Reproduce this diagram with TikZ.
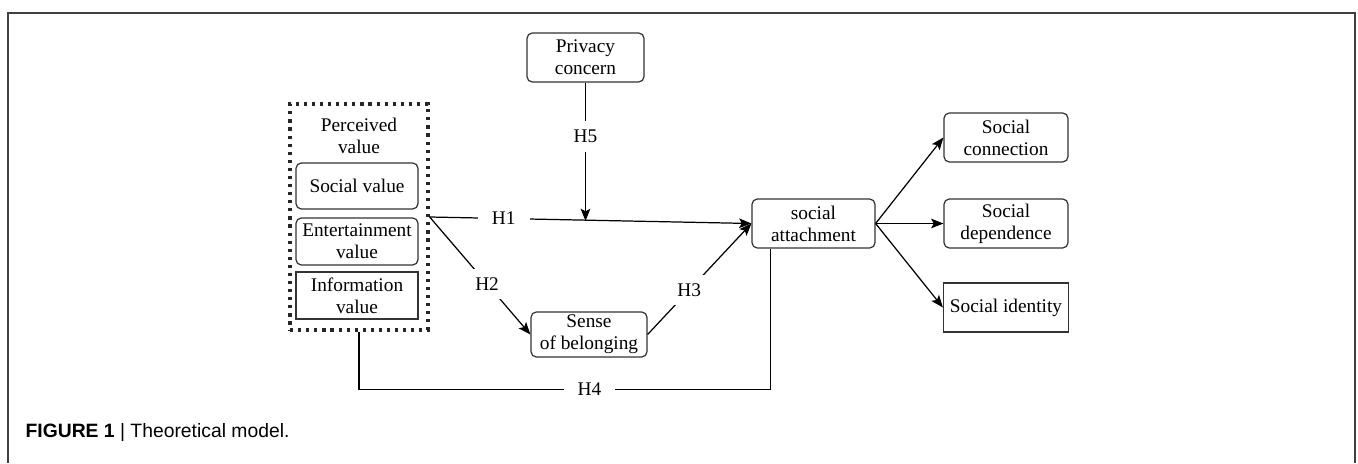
\documentclass[tikz,border=0pt]{standalone}
\usepackage{fontspec}
\setmainfont{Liberation Serif}
\newfontfamily\capfont{Liberation Sans}
\usetikzlibrary{positioning, arrows, arrows.meta}
\newcommand{\tbf}[1]{\textbf{#1}}

\begin{document}
\begin{tikzpicture}[
		x=0.02cm, y=-0.02cm,
		>={Stealth[length=7pt, width=5.5pt, inset=1.5pt]},
		line width=0.7pt,
		vnode/.style={draw=black!80, rounded corners=3pt, align=center, font=\fontsize{11}{12.5}\selectfont, minimum width=2.46cm, minimum height=0.98cm, inner sep=1pt},
		snode/.style={vnode, rounded corners=0pt},
		hlbl/.style={fill=white, font=\fontsize{11}{12.5}\selectfont, inner xsep=8pt, inner ysep=5pt},
	]
	\useasboundingbox (0, 0) rectangle (1358, 463);
	\draw[black!75] (8, 463) |- (1355, 13) -- (1355, 463);

	\node[draw=black!85, dash pattern=on 1.8pt off 2.8pt, line width=1.9pt, minimum width=2.76cm, minimum height=4.52cm] (pv) at (359, 217) {};
	\node[font=\fontsize{11}{12.5}\selectfont, align=center] (pvtxt) at (359, 136) {Perceived\\value};
	\node[vnode, minimum width=2.44cm, minimum height=0.92cm] (sv) at (357, 186) {Social value};
	\node[vnode, minimum width=2.44cm, minimum height=0.94cm] (ev) at (357, 241.5) {Entertainment\\value};
	\node[snode, minimum width=2.44cm, minimum height=0.94cm] (iv) at (357, 295.5) {Information\\value};

	\node[vnode, minimum width=2.34cm] (pc) at (585.5, 57.5) {Privacy\\concern};
	\node[vnode, minimum width=2.32cm, minimum height=0.9cm] (sob) at (589, 334.5) {Sense\\of belonging};
	\node[vnode] (sa) at (813.5, 223.5) {social\\attachment};

	\node[vnode, minimum width=2.48cm] (sc) at (1006, 137.5) {Social\\connection};
	\node[vnode, minimum width=2.48cm] (sd) at (1006, 223.5) {Social\\dependence};
	\node[snode, minimum width=2.5cm] (si) at (1006, 307.5) {Social identity};

	\coordinate (h5end) at (585.5, 221);

	\draw[->] (pv.east) to node [hlbl, pos=0.23] {H1} (sa.west);
	\draw[->] (pc.south) to node [hlbl, pos=0.39] {H5} (h5end);
	\draw[->] (pv.east) to node [hlbl, pos=0.57] {H2} (sob.west);
	\draw[->] (sob.east) to node [hlbl, pos=0.4] {H3} (sa.west);
	\draw[-] (pv.south) -- ++(0, 57.5) -| node [hlbl, pos=0.28] {H4} ([xshift=0.38cm]sa.south west);

	\draw[->] (sa.east) to (sc.west);
	\draw[->] (sa.east) to (sd.west);
	\draw[->] (sa.east) to (si.west);

	\node[anchor=west, font=\capfont\fontsize{11}{13}\selectfont, inner sep=0pt] (cap) at (25, 433) {\tbf{FIGURE 1} | Theoretical model.};
\end{tikzpicture}
\end{document}
